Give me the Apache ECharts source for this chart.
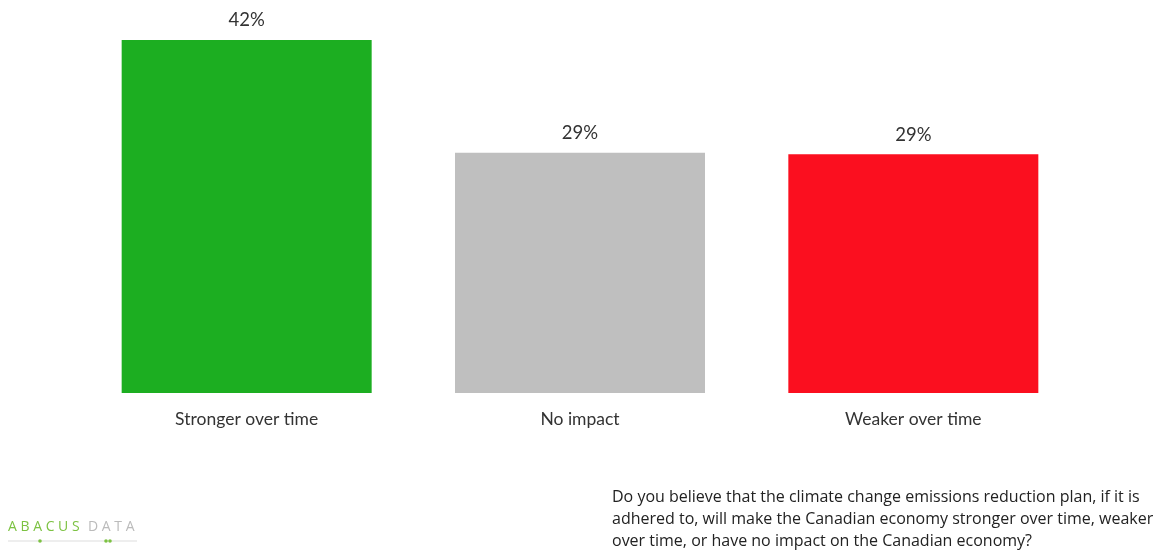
<!DOCTYPE html>
<html>
<head>
<meta charset="utf-8">
<script src="https://cdn.jsdelivr.net/npm/echarts@6/dist/echarts.min.js"></script>
<style>
html,body{margin:0;padding:0;background:#fff;}
#chart{width:1157px;height:550px;}
</style>
</head>
<body>
<div id="chart"></div>
<script>
var categories = ['Stronger over time', 'No impact', 'Weaker over time'];
var values = [42.3, 28.8, 28.6];
var barColors = ['#1cae21', '#bfbfbf', '#fb0f1f'];
var questionLines = [
  'Do you believe that the climate change emissions reduction plan, if it is',
  'adhered to, will make the Canadian economy stronger over time, weaker',
  'over time, or have no impact on the Canadian economy?'
];

var chart = echarts.init(document.getElementById('chart'));
chart.setOption({
  backgroundColor: '#ffffff',
  animation: false,
  grid: { left: 80, width: 1000, top: 40, bottom: 157, containLabel: false },
  xAxis: {
    type: 'category',
    data: categories,
    axisLine: { show: false },
    axisTick: { show: false },
    axisLabel: { color: '#333333', fontFamily: 'Lato', fontSize: 17.5, margin: 17 }
  },
  yAxis: {
    type: 'value',
    min: 0,
    max: function (v) { return v.max; },
    show: false,
    splitLine: { show: false }
  },
  series: [{
    type: 'bar',
    barWidth: 250,
    data: values.map(function (v, i) { return { value: v, itemStyle: { color: barColors[i] } }; }),
    label: {
      show: true,
      position: 'top',
      distance: 10,
      color: '#333333',
      fontFamily: 'Lato',
      fontSize: 18.5,
      formatter: function (p) { return Math.round(p.value) + '%'; }
    }
  }],
  graphic: [
    {
      type: 'text', left: 612, top: 486,
      style: { text: questionLines.join('\n'), font: '16px "Open Sans"', fill: '#222222', lineHeight: 22 }
    },
    {
      type: 'text', left: 8, top: 520,
      style: { text: 'A B A C U S', font: '14px "Open Sans"', fill: '#7cc242' }
    },
    {
      type: 'text', left: 88, top: 520,
      style: { text: 'D A T A', font: '14px "Open Sans"', fill: '#bbbbbb' }
    },
    {
      type: 'line', shape: { x1: 8, y1: 541, x2: 137, y2: 541 },
      style: { stroke: '#dddddd', lineWidth: 1 }
    },
    { type: 'circle', shape: { cx: 40, cy: 541, r: 1.8 }, style: { fill: '#7cc242' } },
    { type: 'circle', shape: { cx: 106, cy: 541, r: 1.8 }, style: { fill: '#7cc242' } },
    { type: 'circle', shape: { cx: 110, cy: 541, r: 1.8 }, style: { fill: '#7cc242' } }
  ]
});
</script>
</body>
</html>
